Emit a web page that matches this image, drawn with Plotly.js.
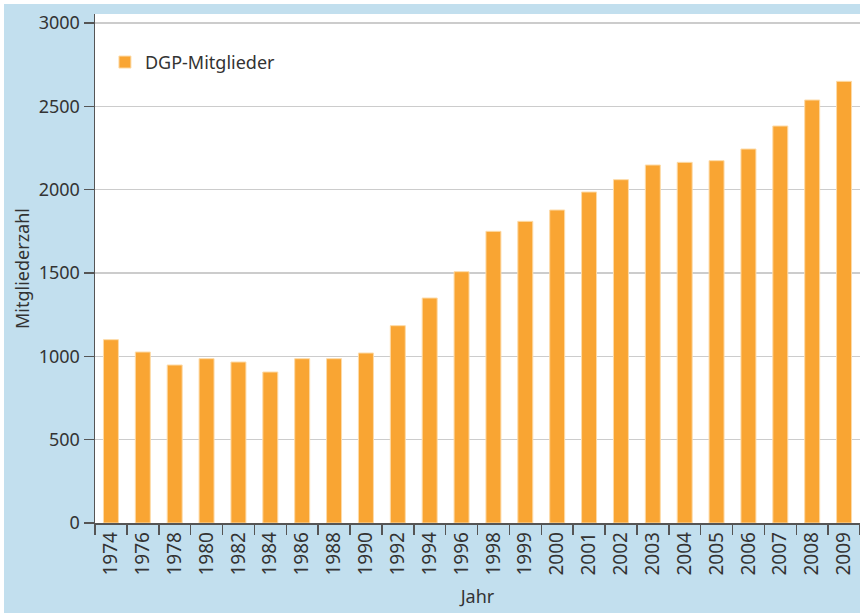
<!DOCTYPE html>
<html>
<head>
<meta charset="utf-8">
<script src="https://cdn.plot.ly/plotly-3.0.1.min.js"></script>
<style>
html,body{margin:0;padding:0;background:#fff;}
#chart{position:absolute;left:4px;top:4px;width:856px;height:609px;}
</style>
</head>
<body>
<div id="chart"></div>
<script>
const years = ["1974","1976","1978","1980","1982","1984","1986","1988","1990","1992","1994","1996","1998","1999","2000","2001","2002","2003","2004","2005","2006","2007","2008","2009"];
const members = [1100,1026,948,986,966,906,986,986,1020,1184,1350,1508,1750,1810,1878,1986,2060,2148,2164,2174,2244,2382,2538,2650];
const seriesName = "DGP-Mitglieder";
const yTicks = [0,500,1000,1500,2000,2500,3000];

const font = "Noto Sans, Open Sans, sans-serif";
const trace = {
  type: "bar",
  x: years,
  y: members,
  name: seriesName,
  marker: {color: "#F9A533", line: {color: "#FDDBA8", width: 1}},
  showlegend: true
};
const layout = {
  width: 856, height: 609,
  paper_bgcolor: "#C2DFEE",
  plot_bgcolor: "#FFFFFF",
  margin: {l: 91, r: 0, t: 10, b: 90},
  bargap: 0.53,
  font: {family: font, size: 18, color: "#333333"},
  showlegend: true,
  legend: {x: 0.013, y: 0.905, xanchor: "left", yanchor: "middle", bgcolor: "rgba(0,0,0,0)", font: {size: 18, color: "#333"}},
  xaxis: {
    type: "category",
    tickangle: -90,
    tickson: "boundaries",
    ticks: "outside", ticklen: 10, tickcolor: "#555", tickwidth: 1.5,
    showline: true, linecolor: "#555", linewidth: 1.5,
    showgrid: false,
    tickfont: {size: 19},
    title: {text: "Jahr", font: {size: 18}, standoff: 16},
    automargin: true
  },
  yaxis: {
    range: [0, 3054],
    tickvals: yTicks,
    ticks: "outside", ticklen: 10, tickcolor: "#555", tickwidth: 1.5,
    showline: true, linecolor: "#555", linewidth: 1.5,
    showgrid: true, gridcolor: "#CCCCCC", gridwidth: 1.5,
    zeroline: false,
    tickfont: {size: 18},
    title: {text: "Mitgliederzahl", font: {size: 18}, standoff: 4},
    automargin: true
  }
};
Plotly.newPlot("chart", [trace], layout, {displayModeBar: false, staticPlot: true});
</script>
</body>
</html>
